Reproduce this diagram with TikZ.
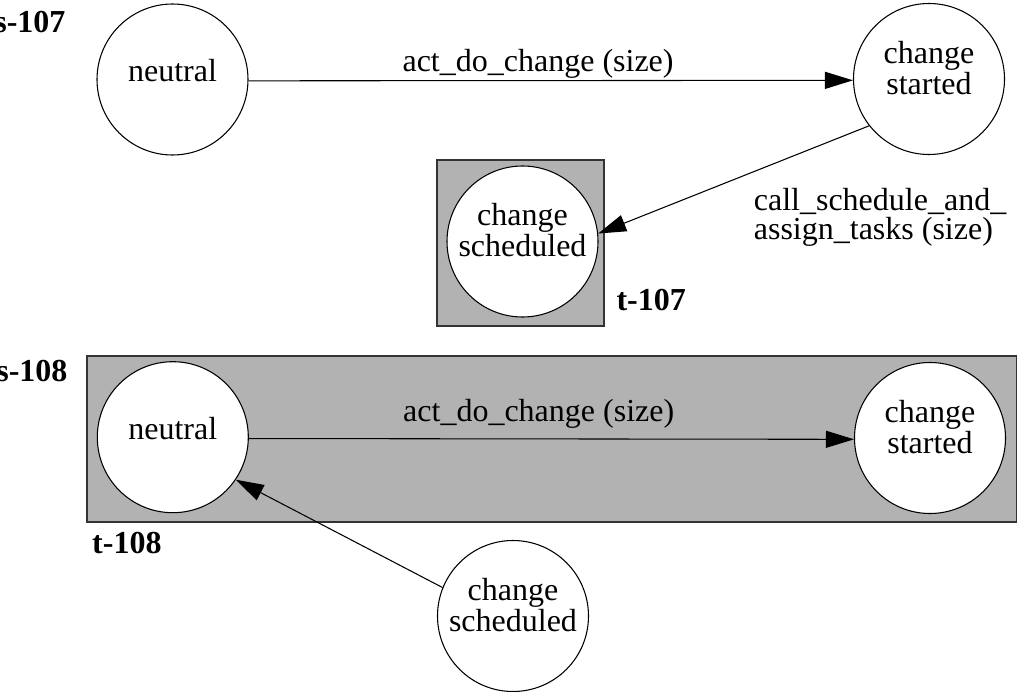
\documentclass[tikz,border=0pt]{standalone}
\usepackage{fontspec}
\setmainfont{Liberation Serif}
\usetikzlibrary{arrows.meta}

\begin{document}
\begin{tikzpicture}[
    x=0.75pt, y=-0.75pt,
    >={Triangle[length=21pt, width=12.75pt]},
    line width=0.8pt,
    estat/.style={
        circle, draw, fill=white,
        minimum size=113.25pt, inner sep=0pt,
        align=center,
        font=\fontsize{24}{23.25}\selectfont
    },
    estatu/.style={estat, text height=16.5pt, text depth=13.5pt},
    estatdos/.style={estat, text height=22.5pt, text depth=0pt},
    caixa/.style={draw=black!80, fill=black!30},
    etiq/.style={font=\fontsize{24}{21.75}\selectfont, inner sep=0pt},
    titol/.style={font=\bfseries\fontsize{24}{24}\selectfont, inner sep=0pt}
]

\useasboundingbox (0,0) rectangle (1017,692);

% Caixes

\draw[caixa] (437,160) rectangle (604,326);
\draw[caixa] (87,356) rectangle (1016.5,522);


% Estats s-107

\node[estatu] (neutre1) at (172.5,79.5) {neutral};
\node[estatdos] (iniciat1) at (929,79) {change\\started};
\node[estatdos] (planif1) at (522.5,241.5) {change\\scheduled};


% Estats s-108

\node[estatu] (neutre2) at (172.8,437.2) {neutral};
\node[estatdos] (iniciat2) at (930,438) {change\\started};
\node[estatdos] (planif2) at (513,616) {change\\scheduled};


% Noms

\node[titol, anchor=base east] (s107) at (66,33) {s-107};
\node[titol, anchor=base west] (t107) at (616,310) {t-107};
\node[titol, anchor=base east] (s108) at (68,381.7) {s-108};
\node[titol, anchor=base west] (t108) at (91.7,553) {t-108};


% Transicions

\draw[->] (neutre1.-1) -- (iniciat1.181)
    node[etiq, pos=0.479, anchor=base, yshift=6.75pt] (acc1) {act\_do\_change (size)};

\draw[->] (iniciat1.218.8) -- (planif1.6.4)
    node[etiq, pos=0.5, anchor=north west, xshift=14.8pt, yshift=-6.1pt, align=left] (crida1)
    {call\_schedule\_and\_\\assign\_tasks (size)};

\draw[->] (neutre2.-1.5) -- (iniciat2.181.5)
    node[etiq, pos=0.479, anchor=base, yshift=13pt] (acc2) {act\_do\_change (size)};

\draw[->] (planif2.158.8) -- (neutre2.-34.5);

\end{tikzpicture}
\end{document}
